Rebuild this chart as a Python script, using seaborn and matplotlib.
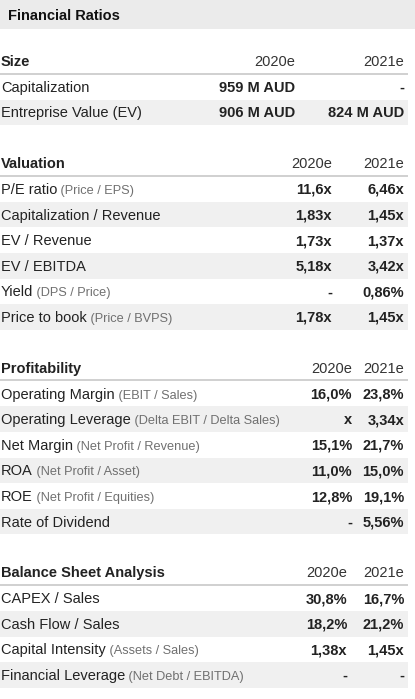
import numpy as np
import pandas as pd
import seaborn as sns
import matplotlib.pyplot as plt

######################
####### data #########
######################
title = 'Financial Ratios'
years = ['2020e', '2021e']

## one list per section
sections = ['Size', 'Valuation', 'Profitability', 'Balance Sheet Analysis']

size_labels = ['Capitalization', 'Entreprise Value (EV)']
size_notes = ['', '']
size_2020 = ['959 M AUD', '906 M AUD']
size_2021 = ['-', '824 M AUD']

val_labels = ['P/E ratio', 'Capitalization / Revenue', 'EV / Revenue', 'EV / EBITDA',
              'Yield', 'Price to book']
val_notes = ['(Price / EPS)', '', '', '', '(DPS / Price)', '(Price / BVPS)']
val_2020 = ['11,6x', '1,83x', '1,73x', '5,18x', '-', '1,78x']
val_2021 = ['6,46x', '1,45x', '1,37x', '3,42x', '0,86%', '1,45x']

prof_labels = ['Operating Margin', 'Operating Leverage', 'Net Margin', 'ROA', 'ROE',
               'Rate of Dividend']
prof_notes = ['(EBIT / Sales)', '(Delta EBIT / Delta Sales)', '(Net Profit / Revenue)',
              '(Net Profit / Asset)', '(Net Profit / Equities)', '']
prof_2020 = ['16,0%', 'x', '15,1%', '11,0%', '12,8%', '-']
prof_2021 = ['23,8%', '3,34x', '21,7%', '15,0%', '19,1%', '5,56%']

bal_labels = ['CAPEX / Sales', 'Cash Flow / Sales', 'Capital Intensity', 'Financial Leverage']
bal_notes = ['', '', '(Assets / Sales)', '(Net Debt / EBITDA)']
bal_2020 = ['30,8%', '18,2%', '1,38x', '-']
bal_2021 = ['16,7%', '21,2%', '1,45x', '-']

## build a long table from the lists
frames = []
for name, lab, note, v1, v2 in zip(
        sections,
        [size_labels, val_labels, prof_labels, bal_labels],
        [size_notes, val_notes, prof_notes, bal_notes],
        [size_2020, val_2020, prof_2020, bal_2020],
        [size_2021, val_2021, prof_2021, bal_2021]):
    frames.append(pd.DataFrame({'section': name, 'label': lab, 'note': note,
                                years[0]: v1, years[1]: v2}))
data_all = pd.concat(frames, ignore_index=True)

#####################
######## plot #######
#####################
sns.set_theme(style='white')
plt.rcParams['font.family'] = ['Liberation Sans', 'DejaVu Sans']

W, H = 415, 699
fig = plt.figure(figsize=(W / 100, H / 100), dpi=100)
ax = fig.add_axes([0, 0, 1, 1])
ax.set_xlim(0, W)
ax.set_ylim(H, 0)
ax.axis('off')

fs = 10.5
fs_note = 9.2
dark = '#222222'
grey_txt = '#707070'
band = '#f0f0f0'
base_off = 5   # baseline sits this far below the row centre

## title band
ax.axhspan(0, 29, color='#ebebeb', lw=0)
ax.text(8, 20, title, fontsize=fs, fontweight='bold', color='#111111', va='baseline')

## column right edges for the first year (second is always at 404)
col1 = {'Size': 295, 'Valuation': 332, 'Profitability': 352, 'Balance Sheet Analysis': 347}
col2 = 404
row_h = 25.6
table_right = 408

y = 61
for name in sections:
    sub = data_all.loc[data_all['section'] == name, :]
    ## header
    ax.text(1, y + base_off, name, fontsize=fs, fontweight='bold', color=dark, va='baseline')
    ax.text(col1[name], y + base_off, years[0], fontsize=fs, color='#333333',
            va='baseline', ha='right')
    ax.text(col2, y + base_off, years[1], fontsize=fs, color='#333333',
            va='baseline', ha='right')
    line_y = y + 12.5
    ax.plot([0, table_right], [line_y, line_y], color='#c8c8c8', lw=1.2, solid_capstyle='butt')
    top = line_y + 0.5
    for i, (_, r) in enumerate(sub.iterrows()):
        y0 = top + i * row_h
        yb = y0 + row_h / 2 + base_off
        if i % 2 == 1:
            ax.fill_between([0, table_right], y0, y0 + row_h, color=band, lw=0)
        t = ax.text(1, yb, r['label'], fontsize=fs, color=dark, va='baseline')
        if r['note']:
            ax.annotate(' ' + r['note'], xy=(1, 0), xycoords=t, fontsize=fs_note,
                        color=grey_txt, va='bottom', ha='left')
        ax.text(col1[name], yb, r[years[0]], fontsize=fs, fontweight='bold', color=dark,
                va='baseline', ha='right')
        ax.text(col2, yb, r[years[1]], fontsize=fs, fontweight='bold', color=dark,
                va='baseline', ha='right')
    y = top + len(sub) * row_h + 38

fig.savefig('out.png', dpi=100)
